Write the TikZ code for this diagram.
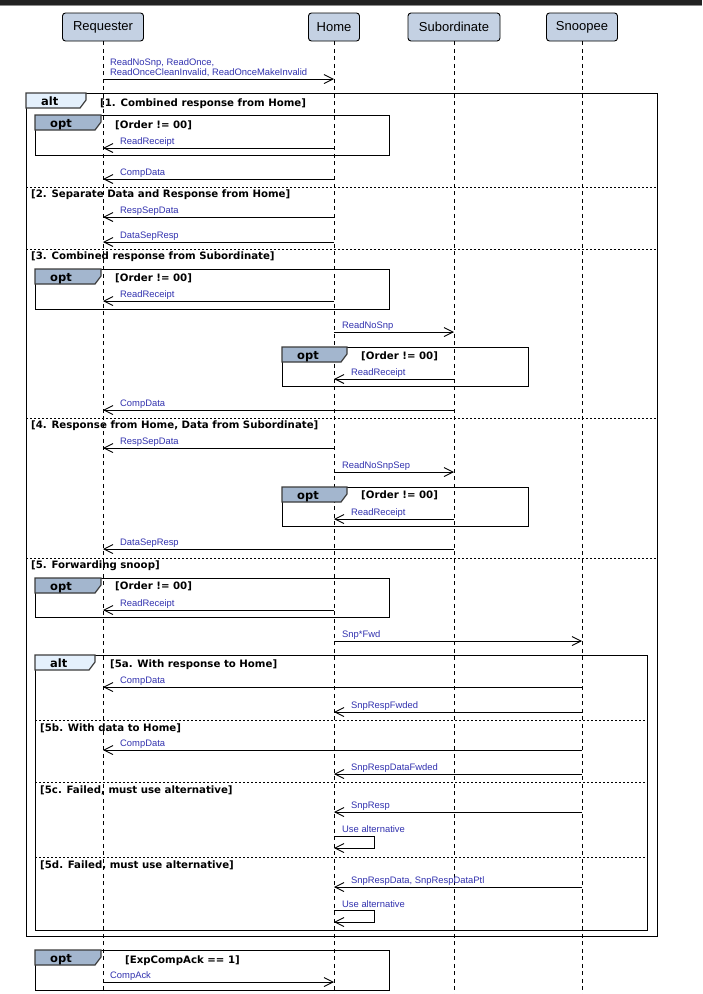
\documentclass[tikz,border=0pt]{standalone}
\usepackage{fontspec}
\setmainfont{Liberation Sans}
\newfontfamily\dvfont{DejaVu Sans}
\usetikzlibrary{arrows.meta}
\definecolor{hdrfill}{RGB}{196,209,227}
\definecolor{optfill}{RGB}{163,182,206}
\definecolor{altfill}{RGB}{228,240,252}
\definecolor{msgblue}{RGB}{50,50,175}
\definecolor{topbar}{RGB}{34,34,34}
\definecolor{tabborder}{RGB}{60,60,60}
\tikzset{
  actor/.style={draw=black, line width=0.9pt, fill=hdrfill, rounded corners=3pt,
    minimum height=28pt, inner sep=0pt, font=\fontsize{13}{15}\selectfont},
  lifeline/.style={line width=0.9pt, dash pattern=on 4pt off 3.5pt},
  frame/.style={line width=1pt, draw=black},
  sepline/.style={line width=0.8pt, dash pattern=on 2pt off 2pt},
  tabline/.style={line width=1.2pt, draw=tabborder},
  tablab/.style={anchor=base west, inner sep=0pt, font=\dvfont\bfseries\fontsize{11.5}{13}\selectfont},
  guard/.style={anchor=base west, inner sep=0pt, font=\dvfont\bfseries\fontsize{10.2}{12}\selectfont},
  msgline/.style={line width=0.9pt, -{Straight Barb[length=9pt,width=9pt]}},
  msglab/.style={anchor=base west, inner sep=0pt, text=msgblue, font=\fontsize{9.4}{11}\selectfont},
}
% #1 name, #2 from, #3 to, #4 y, #5 label x, #6 text
\newcommand\seqmsg[6]{%
  \draw[msgline] (#2.south |- 0,#4) -- (#3.south |- 0,#4);
  \node[msglab] (#1) at (#5,#4-3.5) {#6};}
% #1 name, #2 x, #3 y, #4 width, #5 fill, #6 text
\newcommand\fragtab[6]{%
  \draw[tabline,fill=#5] (#2,#3) -- ++(#4,0) -- ++(0,7) -- ++(-6,8) -- (#2,#3+15) -- cycle;
  \node[tablab] (#1) at (#2+15,#3+12) {#6};}
% guard: #1 name, #2 x, #3 centre y, #4 text
\newcommand\guardtext[4]{\node[guard] (#1) at (#2,#3+4) {#4};}
\begin{document}
\begin{tikzpicture}[x=1pt,y=-1pt]
\useasboundingbox (0,0) rectangle (702,994);
\fill[white] (0,0) rectangle (702,994);
\fill[topbar] (0,0) rectangle (702,4.5);
\fill[black!45] (0,4.5) rectangle (702,5.6);

% actors
\node[actor, minimum width=81pt] (req) at (103,27) {Requester};
\node[actor, minimum width=51pt] (home) at (334,27) {Home};
\node[actor, minimum width=92pt] (sub) at (454,27) {Subordinate};
\node[actor, minimum width=71pt] (snp) at (582,27) {Snoopee};

% frames
\draw[frame] (26,93) rectangle (657,936);
\draw[frame] (35,115) rectangle (389,155);
\draw[frame] (35,269) rectangle (389,309);
\draw[frame] (282,347) rectangle (528,386);
\draw[frame] (282,487) rectangle (528,526);
\draw[frame] (35,578) rectangle (389,617);
\draw[frame] (35,655) rectangle (647,930);
\draw[frame] (35,950) rectangle (389,990);

% separators
\draw[sepline] (26,187) -- (657,187);
\draw[sepline] (26,249) -- (657,249);
\draw[sepline] (26,418) -- (657,418);
\draw[sepline] (26,558) -- (657,558);
\draw[sepline] (35,720) -- (647,720);
\draw[sepline] (35,782) -- (647,782);
\draw[sepline] (35,857) -- (647,857);

% lifelines
\draw[lifeline] (req.south) -- (req.south |- 0,994);
\draw[lifeline] (home.south) -- (home.south |- 0,994);
\draw[lifeline] (sub.south) -- (sub.south |- 0,994);
\draw[lifeline] (snp.south) -- (snp.south |- 0,994);

% tabs
\fragtab{tA}{26}{93}{60}{altfill}{alt}
\fragtab{tB}{35}{115}{66}{optfill}{opt}
\fragtab{tC}{35}{269}{66}{optfill}{opt}
\fragtab{tD}{282}{347}{65}{optfill}{opt}
\fragtab{tE}{282}{487}{65}{optfill}{opt}
\fragtab{tF}{35}{578}{66}{optfill}{opt}
\fragtab{tG}{35}{655}{60}{altfill}{alt}
\fragtab{tH}{35}{950}{66}{optfill}{opt}

% guards
\guardtext{g1}{100}{102}{[1. Combined response from Home]}
\guardtext{g2}{115}{124}{[Order != 00]}
\guardtext{g3}{31}{193}{[2. Separate Data and Response from Home]}
\guardtext{g4}{31}{255}{[3. Combined response from Subordinate]}
\guardtext{g5}{115}{277}{[Order != 00]}
\guardtext{g6}{361}{355}{[Order != 00]}
\guardtext{g7}{31}{424}{[4. Response from Home, Data from Subordinate]}
\guardtext{g8}{361}{494}{[Order != 00]}
\guardtext{g9}{31}{564}{[5. Forwarding snoop]}
\guardtext{g10}{115}{585}{[Order != 00]}
\guardtext{g11}{110}{663}{[5a. With response to Home]}
\guardtext{g12}{40}{727}{[5b. With data to Home]}
\guardtext{g13}{40}{789}{[5c. Failed, must use alternative]}
\guardtext{g14}{40}{864}{[5d. Failed, must use alternative]}
\guardtext{g15}{125}{959}{[ExpCompAck == 1]}

% messages
\draw[msgline] (req.south |- 0,79) -- (home.south |- 0,79);
\node[msglab] (m0a) at (110,65.5) {ReadNoSnp, ReadOnce,};
\node[msglab] (m0b) at (110,75.5) {ReadOnceCleanInvalid, ReadOnceMakeInvalid};
\seqmsg{m1}{home}{req}{148}{120}{ReadReceipt}
\seqmsg{m2}{home}{req}{179}{120}{CompData}
\seqmsg{m3}{home}{req}{217}{120}{RespSepData}
\seqmsg{m4}{home}{req}{242}{120}{DataSepResp}
\seqmsg{m5}{home}{req}{301}{120}{ReadReceipt}
\seqmsg{m6}{home}{sub}{332}{342}{ReadNoSnp}
\seqmsg{m7}{sub}{home}{379}{351}{ReadReceipt}
\seqmsg{m8}{sub}{req}{410}{120}{CompData}
\seqmsg{m9}{home}{req}{448}{120}{RespSepData}
\seqmsg{m10}{home}{sub}{472}{342}{ReadNoSnpSep}
\seqmsg{m11}{sub}{home}{519}{351}{ReadReceipt}
\seqmsg{m12}{sub}{req}{549}{120}{DataSepResp}
\seqmsg{m13}{home}{req}{610}{120}{ReadReceipt}
\seqmsg{m14}{home}{snp}{641}{342}{Snp*Fwd}
\seqmsg{m15}{snp}{req}{687}{120}{CompData}
\seqmsg{m16}{snp}{home}{712}{351}{SnpRespFwded}
\seqmsg{m17}{snp}{req}{750}{120}{CompData}
\seqmsg{m18}{snp}{home}{774}{351}{SnpRespDataFwded}
\seqmsg{m19}{snp}{home}{812}{351}{SnpResp}
\seqmsg{m20}{snp}{home}{887}{351}{SnpRespData, SnpRespDataPtl}
\seqmsg{m21}{req}{home}{982}{110}{CompAck}

% self loops
\coordinate (la1) at (374,836);
\coordinate (la2) at (374,848);
\draw[msgline] (home.south |- la1) -- (la1) -- (la2) -- (home.south |- la2);
\node[msglab] (m22) at (342,832.5) {Use alternative};
\coordinate (lb1) at (374,910);
\coordinate (lb2) at (374,922);
\draw[msgline] (home.south |- lb1) -- (lb1) -- (lb2) -- (home.south |- lb2);
\node[msglab] (m23) at (342,907.5) {Use alternative};
\end{tikzpicture}
\end{document}
